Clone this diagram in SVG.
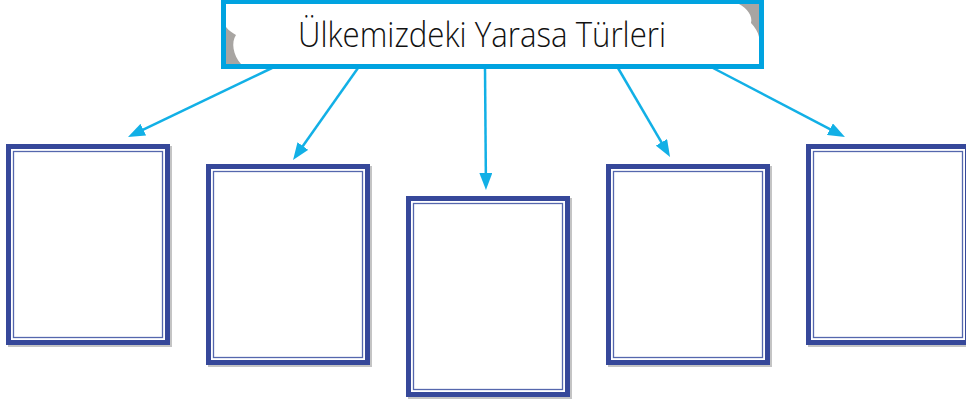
<svg xmlns="http://www.w3.org/2000/svg" width="966" height="404" viewBox="0 0 966 404">
<style>
.shadow{fill:#c4c4c4}
.outer{fill:#fff;stroke:#36489a;stroke-width:5}
.inner{fill:none;stroke:#5567ad;stroke-width:1.3}
.conn{stroke:#12b0e6;stroke-width:2.5;fill:none}
.title{font-family:"Open Sans","Liberation Sans",sans-serif;font-weight:300;font-size:35px;fill:#111}
</style>
<defs>
<marker id="ah" markerUnits="userSpaceOnUse" viewBox="0 0 17 13" markerWidth="17" markerHeight="13" refX="7" refY="6.5" orient="auto">
<path d="M0,0 L17,6.5 L0,13 Z" fill="#12b0e6"/>
</marker>
</defs>
<rect width="966" height="404" fill="#fff"/>
<g id="connectors">
<line class="conn" x1="272" y1="68" x2="137" y2="132.7" marker-end="url(#ah)"/>
<line class="conn" x1="358" y1="68" x2="298.8" y2="151.8" marker-end="url(#ah)"/>
<line class="conn" x1="485" y1="68" x2="485.9" y2="180" marker-end="url(#ah)"/>
<line class="conn" x1="618" y1="68" x2="665" y2="148.4" marker-end="url(#ah)"/>
<line class="conn" x1="713" y1="68" x2="836.1" y2="132.4" marker-end="url(#ah)"/>
</g>
<g id="title">
<rect x="221" y="0" width="543" height="69" fill="#00a3e0"/>
<rect x="226" y="4" width="533" height="60" fill="#fff"/>
<path d="M226,27 C229,31 233,33 236,35 C231,42 233,55 241,64 L226,64 Z" fill="#a8a5a2"/>
<path d="M739,4 C747,8 753,16 751,23 C755,27 758,32 759,37 L759,4 Z" fill="#a8a5a2"/>
<text class="title" x="298" y="47" textLength="368" lengthAdjust="spacingAndGlyphs">Ülkemizdeki Yarasa Türleri</text>
</g>
<g id="box1" transform="translate(6,144)">
<rect class="shadow" x="2" y="2" width="164" height="201"/>
<rect class="outer" x="2.5" y="2.5" width="159" height="196"/>
<rect class="inner" x="7.5" y="7.5" width="149" height="186"/>
</g>
<g id="box2" transform="translate(206,164)">
<rect class="shadow" x="2" y="2" width="164" height="201"/>
<rect class="outer" x="2.5" y="2.5" width="159" height="196"/>
<rect class="inner" x="7.5" y="7.5" width="149" height="186"/>
</g>
<g id="box3" transform="translate(406,196)">
<rect class="shadow" x="2" y="2" width="164" height="201"/>
<rect class="outer" x="2.5" y="2.5" width="159" height="196"/>
<rect class="inner" x="7.5" y="7.5" width="149" height="186"/>
</g>
<g id="box4" transform="translate(606,164)">
<rect class="shadow" x="2" y="2" width="164" height="201"/>
<rect class="outer" x="2.5" y="2.5" width="159" height="196"/>
<rect class="inner" x="7.5" y="7.5" width="149" height="186"/>
</g>
<g id="box5" transform="translate(806,144)">
<rect class="shadow" x="2" y="2" width="164" height="201"/>
<rect class="outer" x="2.5" y="2.5" width="159" height="196"/>
<rect class="inner" x="7.5" y="7.5" width="149" height="186"/>
</g>
</svg>
